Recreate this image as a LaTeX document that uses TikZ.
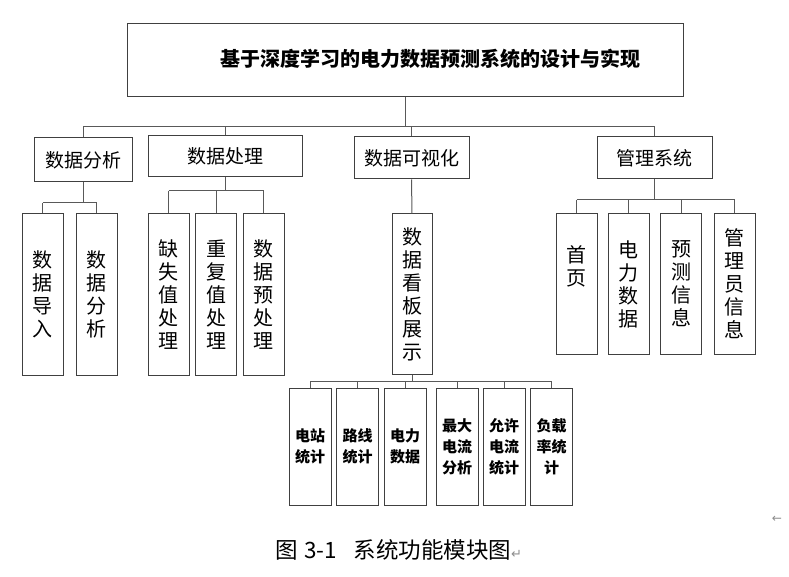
\documentclass[tikz,border=0pt]{standalone}
\usepackage{fontspec}
\newfontfamily\cjk{Noto Sans CJK SC}
\newfontfamily\djv{DejaVu Sans}
\usetikzlibrary{calc}
\begin{document}
\begin{tikzpicture}[x=1pt,y=-1pt,
  boxstyle/.style={draw=black!75, line width=1pt, inner sep=0pt, align=center},
  lvtwo/.style={boxstyle, minimum height=42pt, font=\cjk\fontsize{19}{22}\selectfont},
  lvthree/.style={boxstyle, minimum width=41pt, minimum height=161pt, font=\cjk\fontsize{20}{23}\selectfont},
  lvmgr/.style={boxstyle, minimum width=41pt, minimum height=140pt, font=\cjk\fontsize{20}{23}\selectfont},
  lvfour/.style={boxstyle, minimum width=42pt, minimum height=117pt, font=\cjk\bfseries\fontsize{15}{21}\selectfont},
  conn/.style={draw=black!65, line width=1pt},
]
\useasboundingbox (0,0) rectangle (789,577);
% top
\node[boxstyle, minimum width=556pt, minimum height=73pt] (top) at (405,60.5) {};
\node[inner sep=0pt, font=\cjk\bfseries\fontsize{20}{24}\selectfont] (title) at (430,59) {基于深度学习的电力数据预测系统的设计与实现};
% level 2
\node[lvtwo, minimum width=98pt, minimum height=44pt] (A) at (83,160) {数据分析};
\node[lvtwo, minimum width=154pt, minimum height=41pt] (B) at (225,156.5) {数据处理};
\node[lvtwo, minimum width=115pt] (C) at (411.5,158) {数据可视化};
\node[lvtwo, minimum width=115pt] (D) at (654.5,158) {管理系统};
% level 3
\node[lvthree] (A1) at (42.5,294.5) {数\\据\\导\\入};
\node[lvthree] (A2) at (96.5,294.5) {数\\据\\分\\析};
\node[lvthree] (B1) at (168.5,294.5) {缺\\失\\值\\处\\理};
\node[lvthree] (B2) at (216,294.5) {重\\复\\值\\处\\理};
\node[lvthree] (B3) at (263.5,294.5) {数\\据\\预\\处\\理};
\node[lvthree, minimum width=40pt, minimum height=160pt] (C1) at (412,294) {数\\据\\看\\板\\展\\示};
\node[lvmgr] (D1) at (576.5,284) {首\\页\\[14pt]};
\node[lvmgr] (D2) at (628.5,284) {电\\力\\数\\据};
\node[lvmgr] (D3) at (681,284) {预\\测\\信\\息};
\node[lvmgr] (D4) at (734.5,284) {管\\理\\员\\信\\息};
% level 4
\node[lvfour] (E1) at (310,446.5) {电站\\统计};
\node[lvfour] (E2) at (357.5,446.5) {路线\\统计};
\node[lvfour] (E3) at (405,446.5) {电力\\数据};
\node[lvfour] (E4) at (457,446.5) {最大\\电流\\分析};
\node[lvfour] (E5) at (504,446.5) {允许\\电流\\统计};
\node[lvfour] (E6) at (551.5,446.5) {负载\\率统\\计};
% bus coordinates
\coordinate (busT) at (0,127);
\coordinate (busA) at (0,203);
\coordinate (busB) at (0,191);
\coordinate (busD) at (0,200);
\coordinate (busC) at (0,381);
% connectors top
\draw[conn] (top.south) -- (top.south |- busT);
\draw[conn] (A.north |- busT) -- (D.north |- busT);
\foreach \n in {A,B,C,D} \draw[conn] (\n.north) -- (\n.north |- busT);
% A
\draw[conn] (A.south) -- (A.south |- busA);
\draw[conn] (A1.north |- busA) -- (A2.north |- busA);
\foreach \n in {A1,A2} \draw[conn] (\n.north) -- (\n.north |- busA);
% B
\draw[conn] (B.south) -- (B.south |- busB);
\draw[conn] (B1.north |- busB) -- (B3.north |- busB);
\foreach \n in {B1,B2,B3} \draw[conn] (\n.north) -- (\n.north |- busB);
% C
\draw[conn] (C.south) -- (C1.north);
\draw[conn] (C1.south) -- (C1.south |- busC);
\draw[conn] (E1.north |- busC) -- (E6.north |- busC);
\foreach \n in {E1,E2,E3,E4,E5,E6} \draw[conn] (\n.north) -- (\n.north |- busC);
% D
\draw[conn] (D.south) -- (D.south |- busD);
\draw[conn] (D1.north |- busD) -- (D4.north |- busD);
\foreach \n in {D1,D2,D3,D4} \draw[conn] (\n.north) -- (\n.north |- busD);
% caption and marks
\node[anchor=west, inner sep=0pt, font=\cjk\fontsize{22.5}{26}\selectfont] (cap) at (275,550) {图\hspace{6pt}\makebox[34pt][c]{3-1}\hspace{16pt}系统功能模块图{\djv\fontsize{13}{15}\selectfont\color{black!45}↵}};
\node[inner sep=0pt, font=\djv\fontsize{12}{14}\selectfont, text=black!45] (mark) at (777,519) {←};
\end{tikzpicture}
\end{document}
